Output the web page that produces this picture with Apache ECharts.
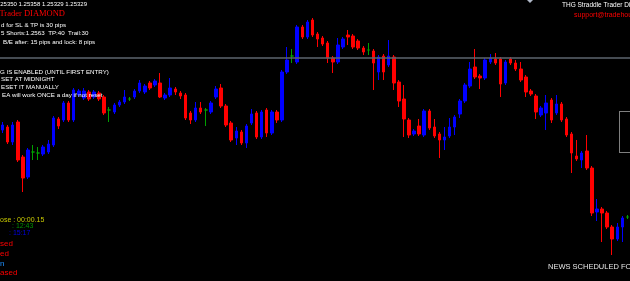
<!DOCTYPE html>
<html>
<head>
<meta charset="utf-8">
<script src="https://cdn.jsdelivr.net/npm/echarts@6/dist/echarts.min.js"></script>
<style>
html,body{margin:0;padding:0;background:#000;}
#chart{width:630px;height:281px;}
</style>
</head>
<body>
<div id="chart"></div>
<script>
const openPrices = [1.2628,1.2631,1.2616,1.2636,1.2601,1.2581,1.2606,1.2605,1.2604,1.2606,
1.2613,1.2639,1.2638,1.2655,1.2638,1.2663,1.2660,1.2666,1.2661,1.2665,
1.2661,1.2648,1.2646,1.2653,1.2656,1.2659,1.2661,1.2667,1.2666,1.2675,
1.2673,1.2675,1.2660,1.2663,1.2669,1.2665,1.2663,1.2645,1.2638,1.2650,
1.2648,1.2646,1.2661,1.2670,1.2652,1.2635,1.2620,1.2626,1.2615,1.2635,
1.2645,1.2621,1.2648,1.2625,1.2646,1.2638,1.2686,1.2702,1.2696,1.2731,
1.2721,1.2738,1.2724,1.2720,1.2715,1.2700,1.2696,1.2711,1.2723,1.2722,
1.2717,1.2710,1.2708,1.2707,1.2686,1.2702,1.2693,1.2701,1.2676,1.2659,
1.2638,1.2624,1.2632,1.2623,1.2647,1.2631,1.2624,1.2618,1.2622,1.2631,
1.2644,1.2657,1.2672,1.2691,1.2682,1.2680,1.2696,1.2699,1.2699,1.2675,
1.2699,1.2695,1.2689,1.2681,1.2667,1.2662,1.2643,1.2645,1.2658,1.2645,
1.2654,1.2639,1.2624,1.2602,1.2598,1.2607,1.2590,1.2546,1.2549,1.2545,
1.2531,1.2519,1.2531,1.2541];
const closePrices = [1.2633,1.2616,1.2633,1.2598,1.2580,1.2608,1.2606,1.2605,1.2611,1.2614,
1.2640,1.2632,1.2655,1.2638,1.2668,1.2667,1.2667,1.2659,1.2666,1.2659,
1.2645,1.2648,1.2653,1.2656,1.2661,1.2659,1.2667,1.2675,1.2672,1.2670,
1.2677,1.2661,1.2663,1.2670,1.2666,1.2662,1.2640,1.2638,1.2650,1.2646,
1.2648,1.2655,1.2669,1.2652,1.2633,1.2618,1.2627,1.2615,1.2632,1.2644,
1.2621,1.2646,1.2625,1.2646,1.2638,1.2686,1.2698,1.2702,1.2731,1.2721,
1.2736,1.2723,1.2719,1.2714,1.2700,1.2696,1.2713,1.2719,1.2721,1.2711,
1.2710,1.2706,1.2708,1.2695,1.2701,1.2686,1.2702,1.2675,1.2657,1.2639,
1.2623,1.2627,1.2624,1.2647,1.2630,1.2622,1.2618,1.2621,1.2631,1.2641,
1.2657,1.2673,1.2689,1.2681,1.2680,1.2698,1.2700,1.2695,1.2674,1.2696,
1.2695,1.2689,1.2678,1.2666,1.2664,1.2646,1.2650,1.2655,1.2638,1.2654,
1.2638,1.2623,1.2605,1.2599,1.2605,1.2590,1.2545,1.2549,1.2545,1.2531,
1.2519,1.2531,1.2540,1.2541];
const highPrices = [1.2636,1.2633,1.2636,1.2638,1.2603,1.2610,1.2613,1.2611,1.2613,1.2618,
1.2642,1.2641,1.2657,1.2657,1.2670,1.2669,1.2670,1.2668,1.2668,1.2667,
1.2663,1.2651,1.2655,1.2658,1.2668,1.2661,1.2669,1.2678,1.2674,1.2677,
1.2679,1.2685,1.2665,1.2680,1.2671,1.2667,1.2665,1.2647,1.2656,1.2656,
1.2650,1.2657,1.2672,1.2674,1.2654,1.2637,1.2631,1.2628,1.2634,1.2649,
1.2647,1.2648,1.2650,1.2648,1.2648,1.2688,1.2711,1.2709,1.2733,1.2733,
1.2738,1.2740,1.2726,1.2722,1.2717,1.2702,1.2720,1.2721,1.2728,1.2724,
1.2719,1.2712,1.2715,1.2709,1.2703,1.2704,1.2718,1.2703,1.2678,1.2673,
1.2640,1.2629,1.2639,1.2649,1.2649,1.2639,1.2626,1.2631,1.2640,1.2643,
1.2659,1.2675,1.2696,1.2709,1.2684,1.2700,1.2704,1.2705,1.2701,1.2698,
1.2701,1.2698,1.2696,1.2683,1.2669,1.2664,1.2652,1.2663,1.2660,1.2663,
1.2656,1.2641,1.2626,1.2618,1.2607,1.2623,1.2592,1.2559,1.2551,1.2547,
1.2533,1.2535,1.2542,1.2543];
const lowPrices = [1.2625,1.2614,1.2613,1.2596,1.2566,1.2579,1.2598,1.2598,1.2602,1.2604,
1.2611,1.2629,1.2636,1.2636,1.2636,1.2661,1.2658,1.2657,1.2659,1.2657,
1.2643,1.2636,1.2644,1.2651,1.2654,1.2657,1.2659,1.2665,1.2664,1.2668,
1.2671,1.2660,1.2658,1.2661,1.2663,1.2659,1.2638,1.2634,1.2636,1.2644,
1.2632,1.2644,1.2659,1.2650,1.2631,1.2616,1.2613,1.2613,1.2610,1.2633,
1.2619,1.2619,1.2621,1.2623,1.2635,1.2636,1.2684,1.2695,1.2694,1.2719,
1.2719,1.2721,1.2711,1.2712,1.2695,1.2685,1.2694,1.2709,1.2713,1.2709,
1.2708,1.2703,1.2703,1.2668,1.2678,1.2678,1.2691,1.2668,1.2651,1.2621,
1.2620,1.2622,1.2622,1.2621,1.2628,1.2620,1.2600,1.2608,1.2620,1.2623,
1.2640,1.2655,1.2670,1.2679,1.2669,1.2678,1.2694,1.2693,1.2661,1.2673,
1.2693,1.2687,1.2676,1.2661,1.2662,1.2639,1.2641,1.2628,1.2635,1.2643,
1.2636,1.2621,1.2585,1.2597,1.2590,1.2588,1.2542,1.2537,1.2516,1.2529,
1.2503,1.2517,1.2516,1.2539];
const categories = openPrices.map((_, i) => 'Bar ' + (i + 1));
const levelPrice = 1.2708;
const priceMin = 1.2477;
const priceMax = 1.2758;

const candleData = openPrices.map((o, i) => [o, closePrices[i], lowPrices[i], highPrices[i]]);

const small = '6.2px "Liberation Sans", Arial, sans-serif';
function txt(x, y, text, fill, font, align) {
  return { type: 'text', x: x, y: y, z: 100, silent: true,
    style: { text: text, fill: fill, font: font || small, textAlign: align || 'left', textVerticalAlign: 'middle' } };
}

const chart = echarts.init(document.getElementById('chart'), null, { renderer: 'canvas' });
chart.setOption({
  backgroundColor: '#000000',
  animation: false,
  grid: { left: -2.5, right: -2.4, top: 0, bottom: 0 },
  xAxis: { type: 'category', data: categories, boundaryGap: true, show: false },
  yAxis: { type: 'value', min: priceMin, max: priceMax, show: false, splitLine: { show: false } },
  series: [{
    type: 'candlestick',
    data: candleData,
    barWidth: 3,
    itemStyle: {
      color: '#0000ff', color0: '#ff0000',
      borderColor: '#0000ff', borderColor0: '#ff0000',
      borderColorDoji: '#00a000', borderWidth: 1
    },
    markLine: {
      silent: true, symbol: 'none', label: { show: false },
      lineStyle: { color: '#5c646e', width: 1.5, type: 'solid' },
      data: [{ yAxis: levelPrice }]
    }
  }],
  graphic: [
    txt(87, 4, '1.25350 1.25358 1.25329 1.25329', '#ffffff', '6px "Liberation Sans", Arial, sans-serif', 'right'),
    txt(65, 14, 'Straddle Trader DIAMOND', '#ff0000', '8.5px "Liberation Serif", "Times New Roman", serif', 'right'),
    txt(1, 25, 'd for SL & TP is 30 pips', '#ffffff'),
    txt(1, 33, '5 Shorts:1.2563  TP:40  Trail:30', '#ffffff'),
    txt(3, 42, 'B/E after: 15 pips and lock: 8 pips', '#ffffff'),
    txt(0, 72, 'G IS ENABLED (UNTIL FIRST ENTRY)', '#ffffff'),
    txt(1, 79, 'SET AT MIDNIGHT', '#ffffff'),
    txt(1, 87, 'ESET IT MANUALLY', '#ffffff'),
    txt(2, 95, 'EA will work ONCE a day if not reset', '#ffffff'),
    txt(0, 220, 'ose : 00:00.15', '#c8c800', '7px "Liberation Sans", Arial, sans-serif'),
    txt(12, 226, ': 12:43', '#009000', '7px "Liberation Sans", Arial, sans-serif'),
    txt(9, 233, ': 15:17', '#0000e0', '7px "Liberation Sans", Arial, sans-serif'),
    txt(0, 244, 'sed', '#ff0000', '8px "Liberation Sans", Arial, sans-serif'),
    txt(0, 254, 'ed', '#ff0000', '8px "Liberation Sans", Arial, sans-serif'),
    txt(0, 264, 'n', '#1e90ff', '8px "Liberation Sans", Arial, sans-serif'),
    txt(0, 273, 'ased', '#ff0000', '8px "Liberation Sans", Arial, sans-serif'),
    txt(562, 5, 'THG Straddle Trader Diamond', '#ffffff', '6.5px "Liberation Sans", Arial, sans-serif'),
    txt(574, 15, 'support@tradehou', '#ff0000', '7px "Liberation Sans", Arial, sans-serif'),
    txt(548, 267, 'NEWS SCHEDULED FOR', '#e6e6e6', '7.5px "Liberation Sans", Arial, sans-serif'),
    { type: 'rect', z: 100, silent: true, shape: { x: 619.5, y: 111.5, width: 20, height: 41 },
      style: { fill: 'none', stroke: '#ffffff', lineWidth: 1, lineDash: [1, 1] } },
    { type: 'polygon', z: 100, silent: true, shape: { points: [[527, 0], [533, 0], [530, 3]] },
      style: { fill: '#b0b8c8' } }
  ]
});
</script>
</body>
</html>
